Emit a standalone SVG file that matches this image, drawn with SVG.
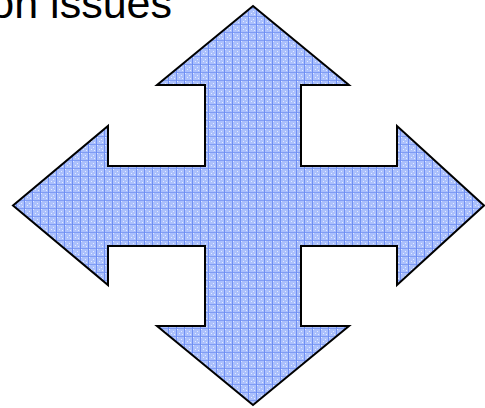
<svg xmlns="http://www.w3.org/2000/svg" width="485" height="408" viewBox="0 0 485 408">
  <style>
    .title { font-family: "Liberation Sans", Arial, sans-serif; font-size: 43px; fill: #000; }
    .arrow { fill: url(#grid); stroke: #000; stroke-width: 2; stroke-linejoin: miter; }
  </style>
  <defs>
    <pattern id="grid" patternUnits="userSpaceOnUse" width="8" height="8">
      <rect width="8" height="8" fill="#abc0fc"/>
      <rect x="1" y="1" width="1" height="1" fill="#e4ecff"/>
      <rect x="5" y="3" width="1" height="1" fill="#e4ecff"/>
      <rect x="3" y="5" width="1" height="1" fill="#e4ecff"/>
      <rect x="6" y="6" width="1" height="1" fill="#e4ecff"/>
      <rect x="0" y="0" width="8" height="1" fill="#7f9cf5"/>
      <rect x="0" y="0" width="1" height="8" fill="#6f8ff3"/>
    </pattern>
  </defs>
  <text class="title" x="172" y="18" text-anchor="end">on issues</text>
  <g id="quad-arrow">
    <polygon class="arrow" points="253,6 349,85 301,85 301,166 397,166 397,126 484,205.5 397,285 397,246 301,246 301,326 349,326 253,405 157,326 205,326 205,246 108,246 108,285 13,205.5 108,126 108,166 205,166 205,85 157,85"/>
  </g>
</svg>
